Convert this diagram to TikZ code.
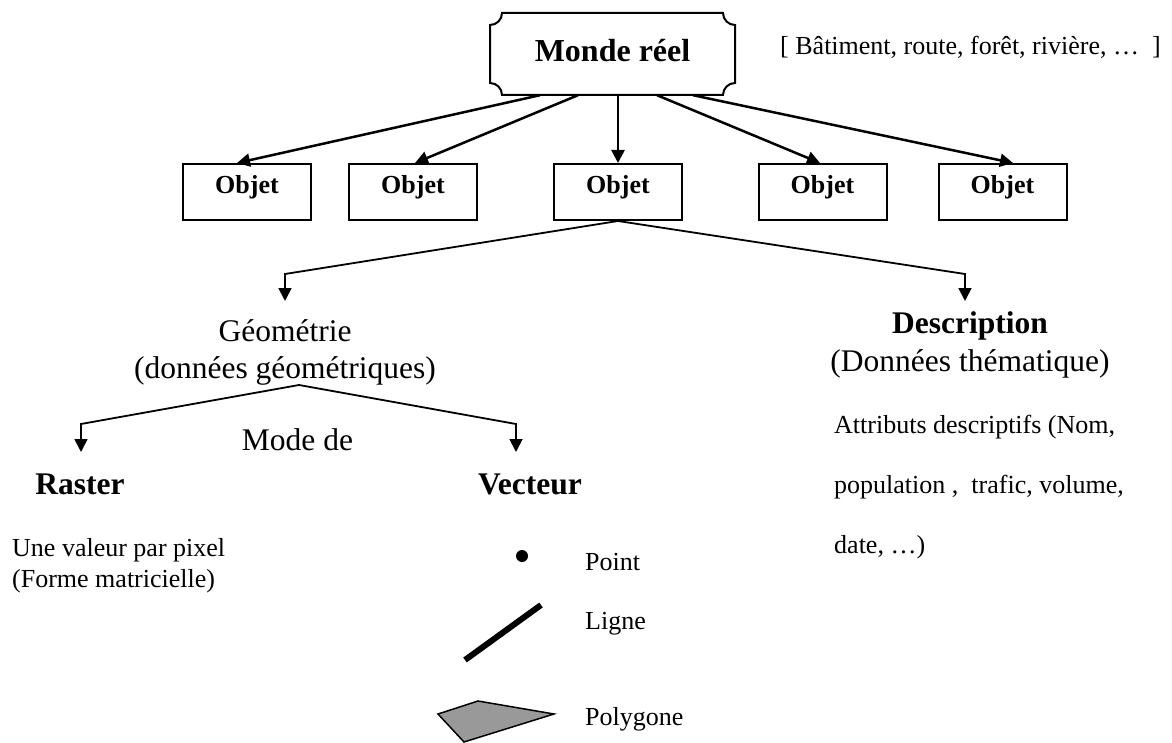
\documentclass[tikz,border=0pt]{standalone}
\usepackage{fontspec}
\setmainfont{Liberation Serif}
\usetikzlibrary{arrows.meta,calc}
\definecolor{polyfill}{RGB}{153,153,153}
\begin{document}
\begin{tikzpicture}[x=1pt,y=-1pt,
  txt/.style={inner sep=0pt, font=\fontsize{26}{30}\selectfont},
  big/.style={inner sep=0pt, font=\fontsize{31.5}{37}\selectfont},
  bigb/.style={inner sep=0pt, font=\fontsize{31.5}{37}\selectfont\bfseries},
  plaquenode/.style={inner sep=0pt, minimum width=245pt, minimum height=82pt,
    font=\fontsize{32}{38}\selectfont\bfseries, text height=22pt, text depth=6.6pt},
  objbox/.style={draw, line width=2pt, minimum width=128pt, minimum height=56pt,
    inner sep=0pt, font=\fontsize{26}{30}\selectfont\bfseries,
    text height=17.3pt, text depth=14.7pt},
  arr/.style={line width=2.5pt, -{Triangle[length=13pt,width=13pt]}},
  arrthin/.style={line width=1.8pt, -{Triangle[length=13pt,width=13pt]}},
  link/.style={line width=1.8pt}
]
\useasboundingbox (0,0) rectangle (1172,743);

% Monde reel (plaque)
\node[plaquenode] (monde) at (612.5,54) {Monde réel};
\draw[line width=2pt]
  (502,13) -- (723,13) .. controls (723,19.6) and (728.4,25) .. (735,25)
  -- (735,83) .. controls (728.4,83) and (723,88.4) .. (723,95)
  -- (502,95) .. controls (502,88.4) and (496.6,83) .. (490,83)
  -- (490,25) .. controls (496.6,25) and (502,19.6) .. (502,13) -- cycle;

\node[txt, anchor=base west] (exemples) at (780,55) {[ Bâtiment, route, forêt, rivière, …\ \ ]};

% Objets
\node[objbox] (o1) at (247,192) {Objet};
\node[objbox] (o2) at (413,192) {Objet};
\node[objbox] (o3) at (618,192) {Objet};
\node[objbox] (o4) at (822.5,192) {Objet};
\node[objbox] (o5) at (1002.5,192) {Objet};

\draw[arr] ([xshift=-72.5pt]monde.south) -- ([xshift=-10pt]o1.north);
\draw[arr] ([xshift=-34.5pt]monde.south) -- ([xshift=2pt]o2.north);
\draw[arr] ([xshift=5.5pt]monde.south) -- (o3.north);
\draw[arr] ([xshift=44.5pt]monde.south) -- ([xshift=-2.5pt]o4.north);
\draw[arr] ([xshift=80.5pt]monde.south) -- ([xshift=10.5pt]o5.north);

% Geometrie / Description
\node[big, anchor=base] (geo) at (285,341) {Géométrie};
\node[big, anchor=base] (geo2) at (285,378) {(données géométriques)};
\node[bigb, anchor=base] (desc) at (970,333) {Description};
\node[big, anchor=base] (desc2) at (970,371) {(Données thématique)};

\coordinate (gc) at (285,274);
\coordinate (dc) at (965,274);
\draw[arrthin] (o3.south) -- (gc) -- ++(0,27);
\draw[arrthin] (o3.south) -- (dc) -- ++(0,27);

% Modes
\coordinate (gtop) at (299,385);
\coordinate (rc) at (81,424);
\coordinate (vc) at (516,424);
\draw[arrthin] (gtop) -- (rc) -- ++(0,28);
\draw[arrthin] (gtop) -- (vc) -- ++(0,28);

\node[big, anchor=base] (mode) at (297.5,450) {Mode de};
\node[bigb, anchor=base] (raster) at (80,494) {Raster};
\node[bigb, anchor=base] (vecteur) at (530,494) {Vecteur};

\node[txt, anchor=base west] (val1) at (12,556) {Une valeur par pixel};
\node[txt, anchor=base west] (val2) at (12,587) {(Forme matricielle)};

\node[txt, anchor=base west] (attr1) at (834,433) {Attributs descriptifs (Nom,};
\node[txt, anchor=base west] (attr2) at (834,493) {population ,\ \ trafic, volume,};
\node[txt, anchor=base west] (attr3) at (834,553) {date, …)};

% Vector primitives
\fill (522,556) circle (6pt);
\draw[line width=6pt] (465,660) -- (541,605);
\draw[line width=1.5pt, fill=polyfill, line join=miter] (438,714) -- (478,701) -- (554,714) -- (464,742) -- cycle;

\node[txt, anchor=base west] (pt) at (585,570) {Point};
\node[txt, anchor=base west] (lg) at (585,629) {Ligne};
\node[txt, anchor=base west] (pg) at (585,725) {Polygone};
\end{tikzpicture}
\end{document}
